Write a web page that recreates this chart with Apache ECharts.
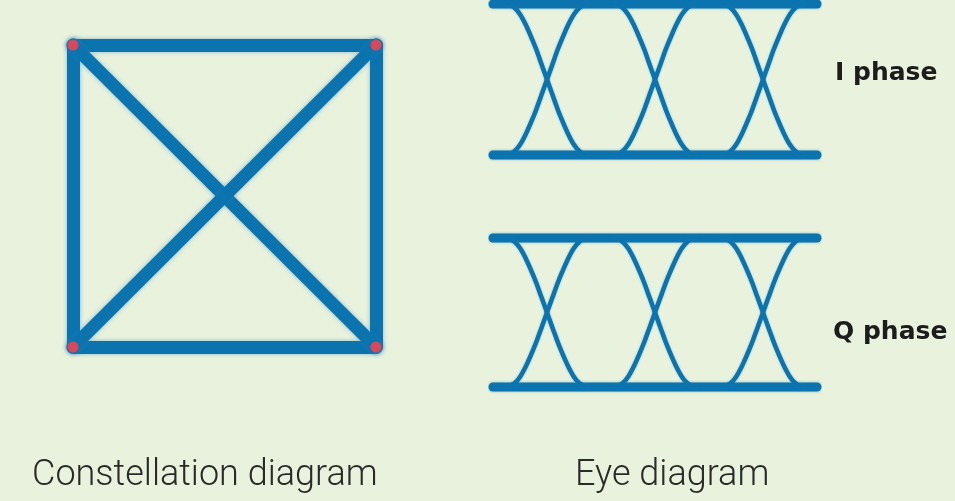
<!DOCTYPE html>
<html>
<head>
<meta charset="utf-8">
<title>Constellation and eye diagram</title>
<script src="https://cdn.jsdelivr.net/npm/echarts@6/dist/echarts.min.js"></script>
<style>
  html, body { margin: 0; padding: 0; background: #e9f2dd; }
  #chart { width: 955px; height: 501px; }
</style>
</head>
<body>
<div id="chart"></div>
<script>
// QPSK symbol positions (I, Q)
const constellationPoints = [[-1, 1], [1, 1], [1, -1], [-1, -1]];
// Symbol-to-symbol transitions traced in the constellation plane (indices into the points)
const constellationTransitions = [[0, 1], [1, 2], [2, 3], [3, 0], [0, 2], [1, 3]];

// Eye diagram time span in bit periods and the crossing instants
const eyeSpan = [0, 3];
const iCrossings = [0.5, 1.5, 2.5];
const qCrossings = [0.5, 1.5, 2.5];
const railLevels = [1, -1];
// Shape of one rising edge: time offset from the crossing (bits) and normalised level
const edgeOffsets = [-0.38, -0.35, -0.3, -0.25, -0.2, -0.15, -0.1, -0.05, 0, 0.05, 0.1, 0.15, 0.2, 0.25, 0.3, 0.35, 0.38];
const edgeLevels = [-1, -0.995, -0.95, -0.865, -0.735, -0.575, -0.4, -0.2, 0, 0.2, 0.4, 0.575, 0.735, 0.865, 0.95, 0.995, 1];

const blue = '#0b73ae';
const halo = 'rgba(40, 135, 195, 0.5)';
const dotColor = '#d9475a';

function edgeTrace(center, sign) {
  return edgeOffsets.map((o, i) => [center + o, sign * edgeLevels[i]]);
}

function eyeSeries(axisIndex, crossings) {
  const out = [];
  railLevels.forEach(level => {
    out.push({
      type: 'line', xAxisIndex: axisIndex, yAxisIndex: axisIndex,
      data: [[eyeSpan[0], level], [eyeSpan[1], level]],
      showSymbol: false, clip: false, silent: true,
      lineStyle: { color: blue, width: 9, cap: 'round', shadowBlur: 3, shadowColor: halo }
    });
  });
  crossings.forEach(c => {
    [1, -1].forEach(sign => {
      out.push({
        type: 'line', xAxisIndex: axisIndex, yAxisIndex: axisIndex,
        data: edgeTrace(c, sign),
        smooth: 0.3, showSymbol: false, clip: false, silent: true,
        lineStyle: { color: blue, width: 4.5, cap: 'round', shadowBlur: 2, shadowColor: halo }
      });
    });
  });
  return out;
}

const hiddenAxis = (min, max, gridIndex) => ({
  type: 'value', min, max, gridIndex, show: false
});

const chart = echarts.init(document.getElementById('chart'), null, { renderer: 'canvas' });

chart.setOption({
  animation: false,
  backgroundColor: '#e9f2dd',
  grid: [
    { left: 73, top: 45, width: 303, height: 302 },
    { left: 493, top: 4, width: 324, height: 151 },
    { left: 493, top: 238, width: 324, height: 149 }
  ],
  xAxis: [hiddenAxis(-1, 1, 0), hiddenAxis(eyeSpan[0], eyeSpan[1], 1), hiddenAxis(eyeSpan[0], eyeSpan[1], 2)],
  yAxis: [hiddenAxis(-1, 1, 0), hiddenAxis(-1, 1, 1), hiddenAxis(-1, 1, 2)],
  series: [
    {
      type: 'lines',
      coordinateSystem: 'cartesian2d',
      xAxisIndex: 0, yAxisIndex: 0,
      clip: false, silent: true, z: 1,
      lineStyle: { color: blue, width: 13, opacity: 1, cap: 'round', shadowBlur: 4, shadowColor: halo },
      data: constellationTransitions.map(([a, b]) => ({
        coords: [constellationPoints[a], constellationPoints[b]]
      }))
    },
    {
      type: 'scatter',
      xAxisIndex: 0, yAxisIndex: 0,
      data: constellationPoints,
      symbolSize: 11, clip: false, silent: true,
      itemStyle: { color: dotColor, opacity: 1 },
      z: 20, zlevel: 1
    },
    ...eyeSeries(1, iCrossings),
    ...eyeSeries(2, qCrossings)
  ],
  graphic: [
    {
      type: 'text', left: 835, top: 61,
      style: { text: 'I phase', font: 'bold 25px "DejaVu Sans"', fill: '#1c1c1c' }
    },
    {
      type: 'text', left: 833, top: 320,
      style: { text: 'Q phase', font: 'bold 25px "DejaVu Sans"', fill: '#1c1c1c' }
    },
    {
      type: 'text', left: 32, top: 458,
      style: { text: 'Constellation diagram', font: '300 36px Roboto', fill: '#2a2a2a' }
    },
    {
      type: 'text', left: 575, top: 458,
      style: { text: 'Eye diagram', font: '300 36px Roboto', fill: '#2a2a2a' }
    }
  ]
});
</script>
</body>
</html>
